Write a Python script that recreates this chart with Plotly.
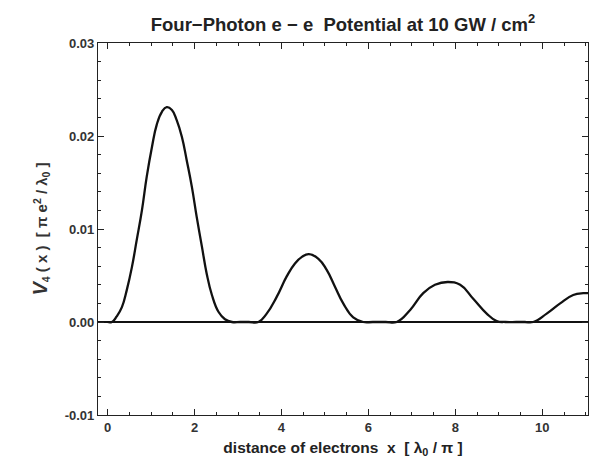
import plotly.graph_objects as go

# Values
x_vals = [0.0, 0.10, 0.21, 0.33, 0.44, 0.56, 0.67, 0.79, 0.90, 1.02, 1.13, 1.25, 1.36,
          1.48, 1.59, 1.71, 1.82, 1.94, 2.05, 2.17, 2.28, 2.40, 2.55, 2.70, 2.86, 3.05, 3.25, 3.47,
          3.66, 3.89, 4.12, 4.31, 4.47, 4.63, 4.85, 5.04, 5.23, 5.42, 5.65, 5.88, 6.1, 6.4, 6.65,
          6.96, 7.26, 7.53, 7.82, 8.11, 8.41, 8.72, 8.95, 9.15, 9.4, 9.6, 9.79, 10.10, 10.41, 10.71,
          10.94, 11.05]
y_vals = [0.0, 0.0, 0.0006, 0.0016, 0.0034, 0.0059, 0.0088, 0.0120, 0.0156, 0.0188, 0.0212, 0.0226, 0.0231,
          0.0228, 0.0217, 0.0199, 0.0174, 0.0145, 0.0113, 0.0081, 0.0052, 0.0029, 0.0011, 0.0003, 0.0, 0.0, 0.0, 0.0,
          0.0009, 0.0027, 0.0049, 0.0063, 0.0070, 0.0073, 0.0068, 0.0056, 0.0038, 0.0020, 0.0005, 0.0, 0.0, 0.0, 0.0,
          0.0013, 0.0031, 0.0040, 0.0043, 0.0040, 0.0025, 0.0009, 0.0001, 0.0, 0.0, 0.0, 0.0, 0.0009, 0.0020, 0.0029,
          0.0031, 0.0031]

x_ticks = [0, 2, 4, 6, 8, 10]
x_ticklabels = ["0", "2", "4", "6", "8", "10"]
y_ticks = [-0.01, 0.0, 0.01, 0.02, 0.03]
y_ticklabels = ["-0.01", "0.00", "0.01", "0.02", "0.03"]

FONT = "Liberation Sans, Arial, sans-serif"

fig = go.Figure()
fig.add_trace(go.Scatter(x=x_vals, y=y_vals, mode="lines",
                         line=dict(color="#111111", width=2.3, shape="spline", smoothing=1.3),
                         hoverinfo="skip", showlegend=False))

axis_common = dict(
    showgrid=False, showline=True, linecolor="#222222", linewidth=1.2,
    ticks="inside", ticklen=6, tickwidth=1.2, tickcolor="#222222", mirror="ticks",
    tickfont=dict(family=FONT, size=13, color="#333333"),
)

fig.update_xaxes(**axis_common, range=[-0.22, 11.05], tickvals=x_ticks,
                 ticktext=["<b>%s</b>" % t for t in x_ticklabels], zeroline=False,
                 minor=dict(ticks="inside", dtick=0.5, ticklen=3, tickwidth=1, tickcolor="#222222"),
                 title=dict(text="<b>distance of electrons  x  [ λ<sub>0</sub> / π ]</b>",
                            font=dict(family=FONT, size=15.5, color="#222222"), standoff=8))
fig.update_yaxes(**axis_common, range=[-0.01, 0.03], tickvals=y_ticks,
                 ticktext=["<b>%s</b>" % t for t in y_ticklabels],
                 zeroline=True, zerolinecolor="#111111", zerolinewidth=1.5,
                 minor=dict(ticks="inside", dtick=0.002, ticklen=3, tickwidth=1, tickcolor="#222222"),
                 title=dict(text="<b><i><span style='font-size:20px'>V</span></i><sub>4</sub> ( x )  [ π e<sup>2</sup> / λ<sub>0</sub> ]</b>",
                            font=dict(family=FONT, size=15, color="#333333"), standoff=13))

fig.update_layout(
    width=589, height=472,
    margin=dict(l=98, r=1, t=43, b=57),
    paper_bgcolor="white", plot_bgcolor="white",
    title=dict(text="<b>Four−Photon e − e  Potential at 10 GW / cm<sup>2</sup></b>",
               x=0.5, xref="paper", y=0.962, yanchor="top",
               font=dict(family=FONT, size=18.5, color="#222222")),
)

fig.write_html("out.html")
